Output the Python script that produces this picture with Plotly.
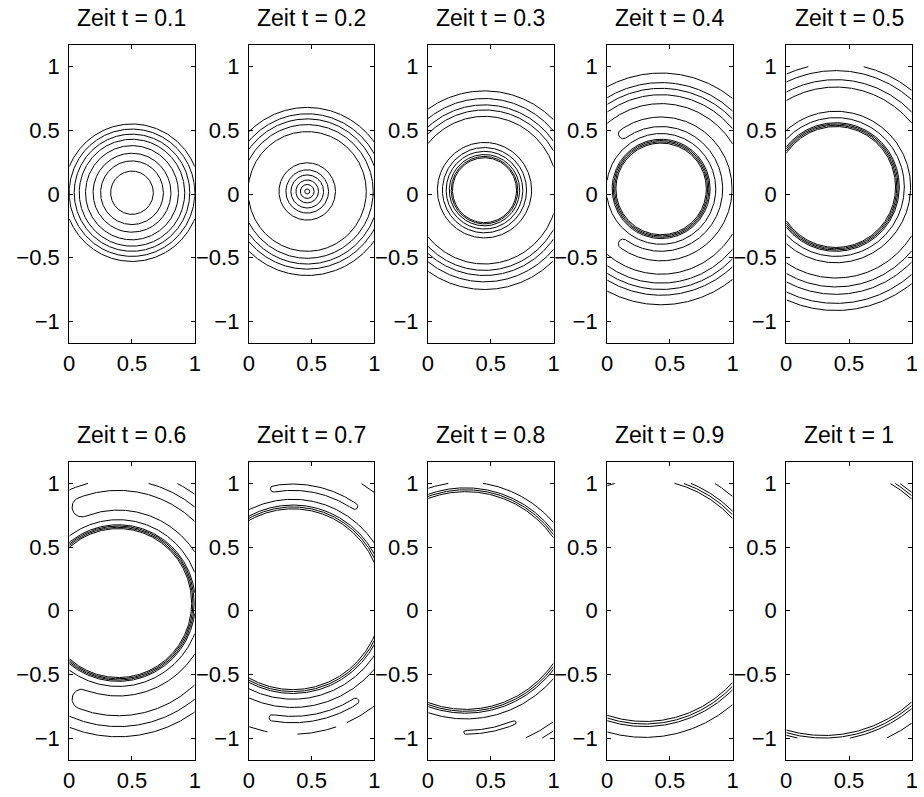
import numpy as np
import plotly.graph_objects as go

# ---------------- data ----------------
TITLES = ["Zeit t = 0.1", "Zeit t = 0.2", "Zeit t = 0.3", "Zeit t = 0.4", "Zeit t = 0.5",
          "Zeit t = 0.6", "Zeit t = 0.7", "Zeit t = 0.8", "Zeit t = 0.9", "Zeit t = 1"]

# centre of the expanding ring pattern in each panel
CENTER_X = [0.50, 0.465, 0.45, 0.43, 0.395, 0.39, 0.35, 0.30, 0.30, 0.30]
CENTER_Y = [0.01, 0.02, 0.03, 0.04, 0.055, 0.06, 0.09, 0.08, 0.08, 0.08]

# radii of closed contour rings (clipped by the computational domain)
RINGS = [
    [0.54, 0.50, 0.46, 0.42, 0.37, 0.31, 0.25, 0.17],
    [0.66, 0.61, 0.57, 0.525, 0.47, 0.225, 0.17, 0.13, 0.09, 0.055, 0.02],
    [0.78, 0.72, 0.67, 0.63, 0.58, 0.375, 0.335, 0.305, 0.28, 0.265, 0.255],
    [0.91, 0.835, 0.79, 0.74, 0.67, 0.435, 0.39, 0.38, 0.37, 0.36],
    [0.97, 0.914, 0.843, 0.785, 0.595, 0.545, 0.505, 0.495, 0.485, 0.475],
    [1.05, 0.97, 0.655, 0.615, 0.605, 0.595, 0.585],
    [0.785, 0.74, 0.725, 0.71],
    [1.24, 1.18, 0.93, 0.885, 0.87, 0.855],
    [1.075, 0.99, 0.97, 0.95],
    [1.19, 1.10, 1.08, 1.06],
]

# open contour pieces: (radius, start angle, end angle) in degrees
ARCS = [
    [], [], [], [],
    [(0.715, -160, -20)],
    [],
    [(0.85, -160, -20), (1.06, -130, -101), (1.06, -88, -71), (1.06, -66, -30), (1.06, 30, 70)],
    [], [], [],
]

# C-shaped closed contours: (inner radius, outer radius, start angle, end angle) in degrees
BANDS = [
    [], [], [],
    [(0.49, 0.565, -125, 125)],
    [],
    [(0.73, 0.885, -111, 111)],
    [(0.855, 0.905, 56, 100), (0.92, 0.97, -100, -58)],
    [(1.02, 1.05, -90, -68)],
    [], [],
]

X_TICKS = [0, 0.5, 1]
X_TICK_TEXT = ["0", "0.5", "1"]
Y_TICKS = [-1, -0.5, 0, 0.5, 1]
Y_TICK_TEXT = ["\u22121", "\u22120.5", "0", "0.5", "1"]

DOMAIN_X = (0.0, 1.0)
DOMAIN_Y = (-1.0, 1.0)
Y_RANGE = [-1.17, 1.17]

# ---------------- geometry helpers ----------------
def arc(cx, cy, r, a0, a1, n=None):
    if n is None:
        n = max(40, int(abs(a1 - a0) * 4))
    th = np.radians(np.linspace(a0, a1, n))
    return cx + r * np.cos(th), cy + r * np.sin(th)


def band(cx, cy, r_in, r_out, a0, a1):
    xo, yo = arc(cx, cy, r_out, a0, a1)
    rm, h = 0.5 * (r_in + r_out), 0.5 * (r_out - r_in)
    parts_x, parts_y = [xo], [yo]
    t = np.radians(a1)
    ur = np.array([np.cos(t), np.sin(t)])
    ut = np.array([-np.sin(t), np.cos(t)])
    c = np.array([cx, cy]) + rm * ur
    ph = np.linspace(0, np.pi, 30)
    parts_x.append(c[0] + h * (np.cos(ph) * ur[0] + np.sin(ph) * ut[0]))
    parts_y.append(c[1] + h * (np.cos(ph) * ur[1] + np.sin(ph) * ut[1]))
    xi, yi = arc(cx, cy, r_in, a1, a0)
    parts_x.append(xi)
    parts_y.append(yi)
    t = np.radians(a0)
    ur = np.array([np.cos(t), np.sin(t)])
    ut = np.array([-np.sin(t), np.cos(t)])
    c = np.array([cx, cy]) + rm * ur
    ph = np.linspace(np.pi, 0, 30)
    parts_x.append(c[0] + h * (np.cos(ph) * ur[0] - np.sin(ph) * ut[0]))
    parts_y.append(c[1] + h * (np.cos(ph) * ur[1] - np.sin(ph) * ut[1]))
    return np.concatenate(parts_x), np.concatenate(parts_y)


def clip(x, y):
    inside = (x >= DOMAIN_X[0] - 1e-9) & (x <= DOMAIN_X[1] + 1e-9) & \
             (y >= DOMAIN_Y[0] - 1e-9) & (y <= DOMAIN_Y[1] + 1e-9)
    xs = [float(v) if ok else None for v, ok in zip(x, inside)]
    ys = [float(v) if ok else None for v, ok in zip(y, inside)]
    return xs + [None], ys + [None]


# ---------------- layout geometry (pixels) ----------------
W, H = 924, 797
COL_LEFT = [64, 246, 427.5, 609, 790.5]
BOX_W = 127.3
ROW_TOP = [45, 461.7]
BOX_H = 298
TITLE_CY = [18, 434.5]

FONT = "Liberation Sans, Arial, Helvetica, sans-serif"

fig = go.Figure()
annotations = []
layout = {}

for i in range(10):
    row, col = divmod(i, 5)
    cx, cy = CENTER_X[i], CENTER_Y[i]
    xs, ys = [], []
    for r in RINGS[i]:
        ax_, ay_ = arc(cx, cy, r, 0, 360, n=1440)
        a, b = clip(ax_, ay_)
        xs += a
        ys += b
    for (r, a0, a1) in ARCS[i]:
        ax_, ay_ = arc(cx, cy, r, a0, a1)
        a, b = clip(ax_, ay_)
        xs += a
        ys += b
    for (r_in, r_out, a0, a1) in BANDS[i]:
        bx, by = band(cx, cy, r_in, r_out, a0, a1)
        a, b = clip(bx, by)
        xs += a
        ys += b
    k = "" if i == 0 else str(i + 1)
    fig.add_trace(go.Scatter(x=xs, y=ys, mode="lines", xaxis="x" + k, yaxis="y" + k,
                             line=dict(color="black", width=1), hoverinfo="skip",
                             showlegend=False, connectgaps=False))

    x0 = COL_LEFT[col] / W
    x1 = (COL_LEFT[col] + BOX_W) / W
    y1 = 1 - ROW_TOP[row] / H
    y0 = 1 - (ROW_TOP[row] + BOX_H) / H
    common = dict(showline=True, linecolor="black", linewidth=1, mirror="ticks",
                  ticks="inside", ticklen=4, tickwidth=1, tickcolor="black",
                  showgrid=False, zeroline=False, fixedrange=True,
                  tickfont=dict(family=FONT, size=22, color="black"))
    layout["xaxis" + k] = dict(domain=[x0, x1], range=[0, 1], anchor="y" + k,
                               tickvals=X_TICKS, ticktext=X_TICK_TEXT,
                               ticklabelstandoff=1, **common)
    layout["yaxis" + k] = dict(domain=[y0, y1], range=Y_RANGE, anchor="x" + k,
                               tickvals=Y_TICKS, ticktext=Y_TICK_TEXT,
                               ticklabelstandoff=4, **common)
    annotations.append(dict(text=TITLES[i], x=(x0 + x1) / 2, y=1 - TITLE_CY[row] / H,
                            xref="paper", yref="paper", xanchor="center", yanchor="middle",
                            showarrow=False, font=dict(family=FONT, size=23, color="black")))

fig.update_layout(width=W, height=H, margin=dict(l=0, r=0, t=0, b=0),
                  paper_bgcolor="white", plot_bgcolor="white", showlegend=False,
                  annotations=annotations, **layout)

fig.write_html("out.html")
